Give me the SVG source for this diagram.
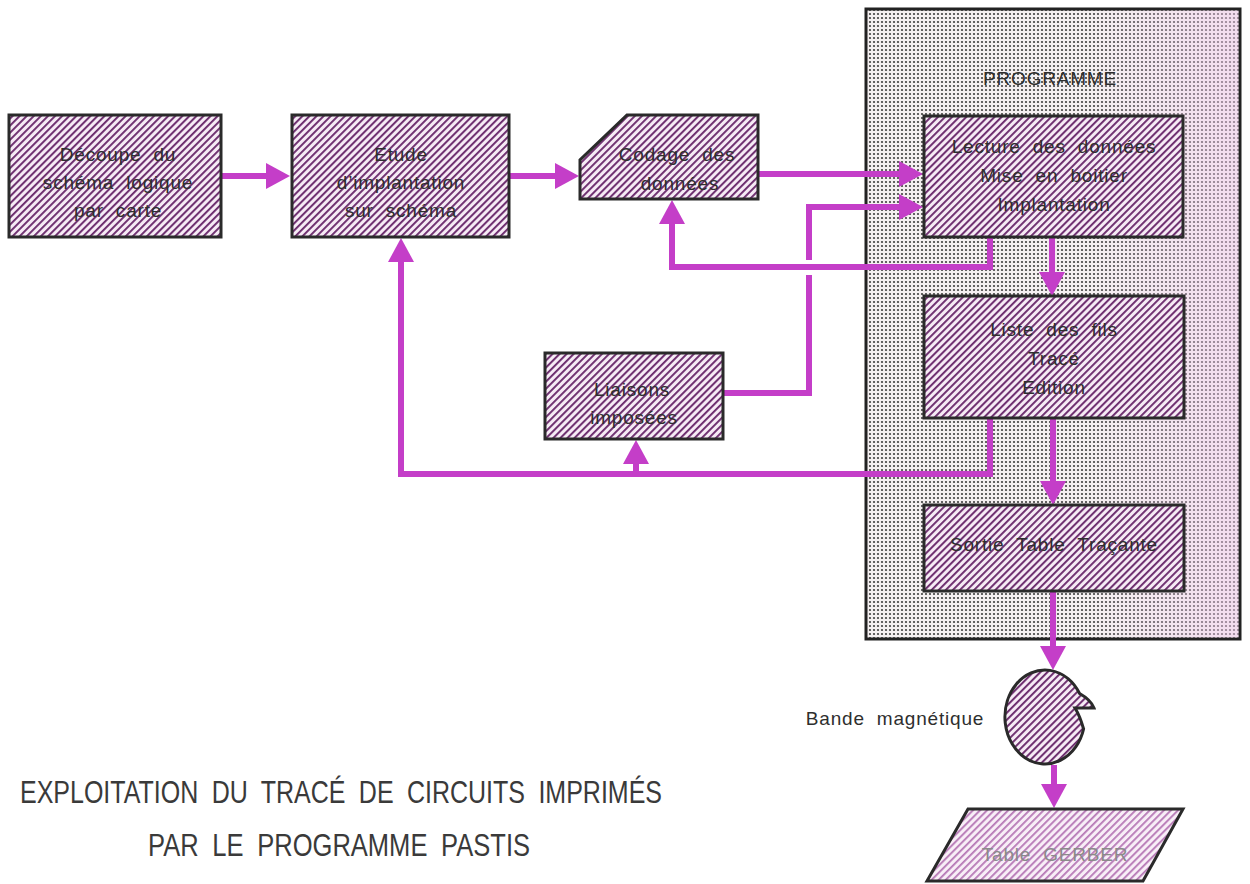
<svg xmlns="http://www.w3.org/2000/svg" width="1250" height="884" viewBox="0 0 1250 884">
<defs>
  <pattern id="hatch" patternUnits="userSpaceOnUse" width="5" height="5" patternTransform="rotate(45)">
    <rect width="5" height="5" fill="#f6ebf5"/>
    <rect x="0" y="0" width="1.9" height="5" fill="#6a2a6c"/>
  </pattern>
  <pattern id="hatchLight" patternUnits="userSpaceOnUse" width="5" height="5" patternTransform="rotate(45)">
    <rect width="5" height="5" fill="#f8eef7"/>
    <rect x="0" y="0" width="1.8" height="5" fill="#b678b6"/>
  </pattern>
  <pattern id="dots" patternUnits="userSpaceOnUse" width="4" height="4">
    <rect width="4" height="4" fill="#f5f0f1"/>
    <circle cx="2" cy="2" r="1.1" fill="#3f3f3f"/>
  </pattern>
  <linearGradient id="pinkfade" x1="0" y1="0" x2="1" y2="0">
    <stop offset="0" stop-color="#f0c8ec" stop-opacity="0"/>
    <stop offset="0.6" stop-color="#f0c8ec" stop-opacity="0"/>
    <stop offset="1" stop-color="#f0c8ec" stop-opacity="0.5"/>
  </linearGradient>
  <marker id="arrow" viewBox="0 0 24 26" refX="0" refY="13" markerWidth="24" markerHeight="26" markerUnits="userSpaceOnUse" orient="auto">
    <path d="M0,0 L24,13 L0,26 Z" fill="#c43ec8"/>
  </marker>
  <style>
    .box { fill: url(#hatch); stroke: #2a2a2a; stroke-width: 3; stroke-linejoin: miter; }
    .lbl { font-family: "Liberation Sans", Arial, sans-serif; font-size: 19px; fill: #2e2e2e; text-anchor: middle; letter-spacing: 0.8px; word-spacing: 6px; }
    .conn { fill: none; stroke: #c43ec8; stroke-width: 6; stroke-linejoin: miter; stroke-linecap: butt; }
    .title { font-family: "Liberation Sans Narrow", "Liberation Sans", Arial, sans-serif; font-size: 31px; fill: #3a3a3a; }
  </style>
</defs>
<rect width="1250" height="884" fill="#ffffff"/>

<g id="programme">
  <rect x="866" y="9" width="374" height="630" fill="url(#dots)" stroke="#222" stroke-width="3"/>
  <rect x="867.5" y="10.5" width="371" height="627" fill="url(#pinkfade)"/>
  <text class="lbl" x="1050" y="85">PROGRAMME</text>
</g>

<g id="connectors">
  <path class="conn" d="M222,176 H266" marker-end="url(#arrow)"/>
  <path class="conn" d="M510,176 H555" marker-end="url(#arrow)"/>
  <path class="conn" d="M759,174 H899" marker-end="url(#arrow)"/>
  <path class="conn" d="M723,393 H809 V275"/>
  <path class="conn" d="M809,260 V207 H899" marker-end="url(#arrow)"/>
  <path class="conn" d="M990,237 V267 H672 V224" marker-end="url(#arrow)"/>
  <path class="conn" d="M1052,237 V272" marker-end="url(#arrow)"/>
  <path class="conn" d="M1053,418 V481" marker-end="url(#arrow)"/>
  <path class="conn" d="M990,418 V474 H401 V262" marker-end="url(#arrow)"/>
  <path class="conn" d="M636,474 V464" marker-end="url(#arrow)"/>
  <path class="conn" d="M1053,591 V646" marker-end="url(#arrow)"/>
  <path class="conn" d="M1054,765 V784" marker-end="url(#arrow)"/>
</g>

<g id="decoupe">
  <rect class="box" x="9" y="115" width="212" height="122"/>
  <text class="lbl" x="118" y="161">Découpe du</text>
  <text class="lbl" x="118" y="189">schéma logique</text>
  <text class="lbl" x="118" y="217">par carte</text>
</g>

<g id="etude">
  <rect class="box" x="292" y="115" width="217" height="122"/>
  <text class="lbl" x="401" y="161">Etude</text>
  <text class="lbl" x="401" y="189">d’implantation</text>
  <text class="lbl" x="401" y="217">sur schéma</text>
</g>

<g id="codage">
  <path class="box" d="M627,115 H758 V199 H580 V160 Z"/>
  <text class="lbl" x="677" y="161">Codage des</text>
  <text class="lbl" x="680" y="190">données</text>
</g>

<g id="lecture">
  <rect class="box" x="924" y="116" width="259" height="121"/>
  <text class="lbl" x="1054" y="153">Lecture des données</text>
  <text class="lbl" x="1054" y="182">Mise en boitier</text>
  <text class="lbl" x="1054" y="211">Implantation</text>
</g>

<g id="liste">
  <rect class="box" x="924" y="296" width="260" height="122"/>
  <text class="lbl" x="1054" y="336">Liste des fils</text>
  <text class="lbl" x="1054" y="365">Tracé</text>
  <text class="lbl" x="1054" y="394">Edition</text>
</g>

<g id="sortie">
  <rect class="box" x="924" y="505" width="260" height="86"/>
  <text class="lbl" x="1054" y="551">Sortie Table Traçante</text>
</g>

<g id="liaisons">
  <rect class="box" x="545" y="353" width="178" height="86"/>
  <text class="lbl" x="632" y="396">Liaisons</text>
  <text class="lbl" x="634" y="424">imposées</text>
</g>

<g id="bande">
  <path class="box" d="M1094,708 L1075,708 Q1080,716 1083.6,729 A40,47 0 1 1 1079.6,693.5 Q1091,700 1094,708 Z"/>
  <text class="lbl" x="895" y="725">Bande magnétique</text>
</g>

<g id="gerber">
  <path d="M968,809 H1183 L1143,881 H927 Z" fill="url(#hatchLight)" stroke="#2a2a2a" stroke-width="3"/>
  <text class="lbl" x="1055" y="861" style="fill:#8a8a8a">Table GERBER</text>
</g>

<g id="title">
  <text class="title" x="20" y="803" textLength="642" lengthAdjust="spacingAndGlyphs" word-spacing="8">EXPLOITATION DU TRACÉ DE CIRCUITS IMPRIMÉS</text>
  <text class="title" x="148" y="856" textLength="382" lengthAdjust="spacingAndGlyphs" word-spacing="8">PAR LE PROGRAMME PASTIS</text>
</g>
</svg>
